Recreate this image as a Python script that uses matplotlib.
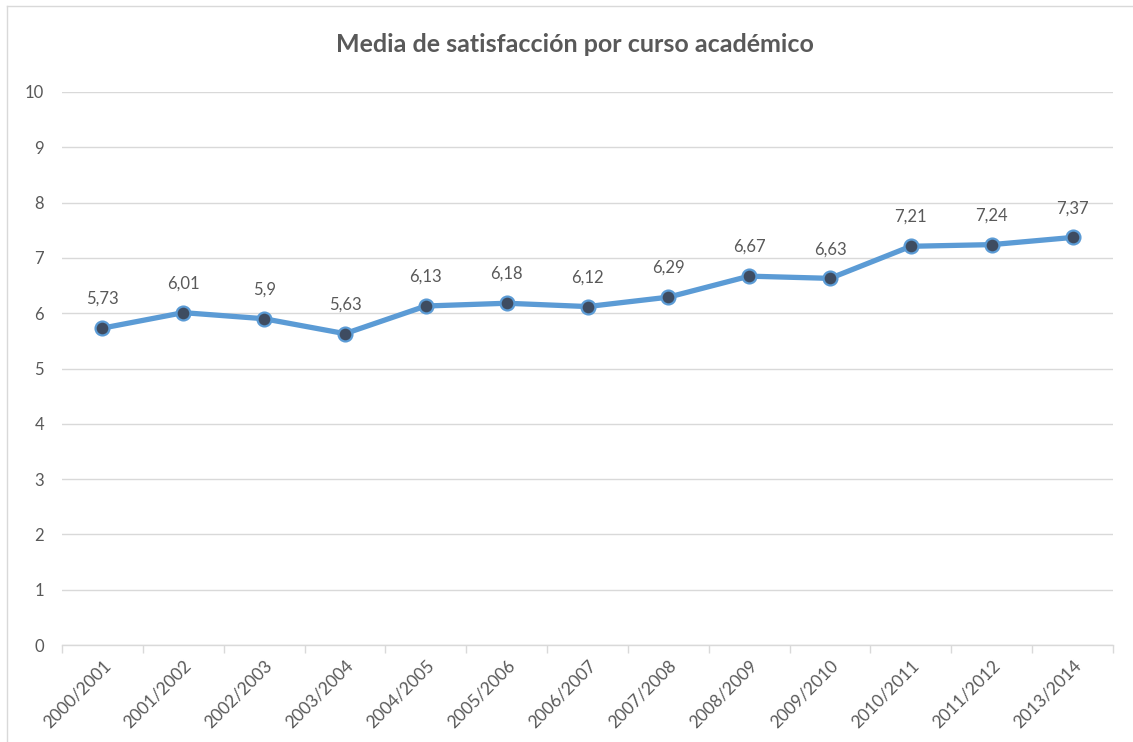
import matplotlib
matplotlib.use("Agg")
import matplotlib.pyplot as plt

cursos = ["2000/2001", "2001/2002", "2002/2003", "2003/2004", "2004/2005",
          "2005/2006", "2006/2007", "2007/2008", "2008/2009", "2009/2010",
          "2010/2011", "2011/2012", "2013/2014"]
medias = [5.73, 6.01, 5.9, 5.63, 6.13, 6.18, 6.12, 6.29, 6.67, 6.63, 7.21, 7.24, 7.37]
etiquetas = ["5,73", "6,01", "5,9", "5,63", "6,13", "6,18", "6,12", "6,29",
             "6,67", "6,63", "7,21", "7,24", "7,37"]
y_ticks = list(range(0, 11))

plt.rcParams['font.family'] = ['Lato', 'DejaVu Sans']
gray = "#595959"

fig = plt.figure(figsize=(11.33, 7.42), dpi=100)
ax = fig.add_axes([62/1133, 1-645/742, (1113-62)/1133, (645-92)/742])

x = list(range(len(cursos)))
ax.plot(x, medias, color="#5B9BD5", lw=3.8, marker="o", markersize=10,
        markerfacecolor="#3E4C61", markeredgecolor="#5B9BD5", markeredgewidth=1.6,
        solid_joinstyle="round", zorder=3)
for xi, v, t in zip(x, medias, etiquetas):
    ax.annotate(t, (xi, v), xytext=(0, 21), textcoords="offset points",
                ha="center", va="center", fontsize=12, color=gray)

ax.set_ylim(0, 10)
ax.set_xlim(-0.5, len(cursos) - 0.5)
ax.set_yticks(y_ticks)
ax.set_yticklabels([str(v) for v in y_ticks], fontsize=12, color=gray)
ax.yaxis.grid(True, color="#D9D9D9", lw=1)
ax.set_axisbelow(True)
ax.tick_params(axis="y", length=0, pad=13)

ax.set_xticks(x)
ax.set_xticklabels(cursos, rotation=45, ha="right", rotation_mode="anchor",
                   fontsize=12.5, color=gray)
ax.tick_params(axis="x", which="major", length=0, pad=9)
ax.set_xticks([i - 0.5 for i in range(len(cursos) + 1)], minor=True)
ax.tick_params(axis="x", which="minor", length=6, color="#D9D9D9", width=1)

for s in ["top", "right", "left"]:
    ax.spines[s].set_visible(False)
ax.spines["bottom"].set_color("#D9D9D9")
ax.spines["bottom"].set_linewidth(1)

fig.text(575/1133, 1-45/742, "Media de satisfacción por curso académico",
         ha="center", va="center", fontsize=18, fontweight="bold", color=gray)

# chart border (top and left visible)
fig.add_artist(plt.Line2D([7/1133, 1], [1-6/742, 1-6/742], transform=fig.transFigure,
                          color="#D9D9D9", lw=1))
fig.add_artist(plt.Line2D([7/1133, 7/1133], [0, 1-6/742], transform=fig.transFigure,
                          color="#D9D9D9", lw=1))

fig.savefig("out.png", dpi=100)
